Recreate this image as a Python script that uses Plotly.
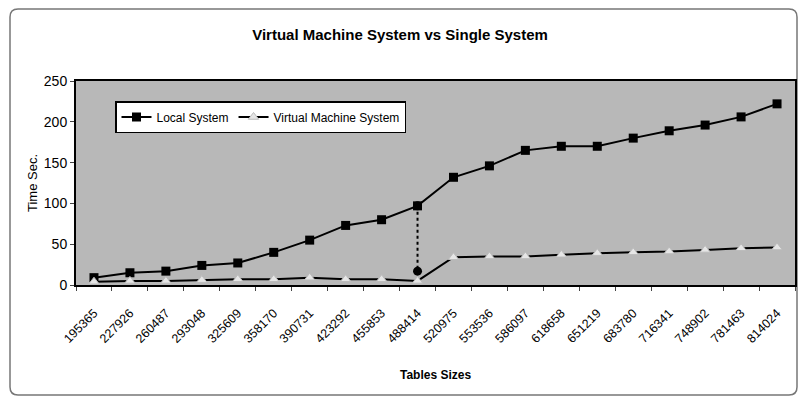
import plotly.graph_objects as go

table_sizes = ["195365", "227926", "260487", "293048", "325609", "358170", "390731",
               "423292", "455853", "488414", "520975", "553536", "586097", "618658",
               "651219", "683780", "716341", "748902", "781463", "814024"]
local_system = [9, 15, 17, 24, 27, 40, 55, 73, 80, 97, 132, 146, 165, 170, 170, 180, 189, 196, 206, 222]
vm_system = [4, 5, 5, 6, 7, 7, 9, 7, 7, 5, 34, 35, 35, 37, 39, 40, 41, 43, 45, 46]
drop_x = ["488414", "488414"]
drop_y = [97, 17]

font = "Liberation Sans, Arial, sans-serif"

fig = go.Figure()
fig.add_trace(go.Scatter(
    x=table_sizes, y=local_system, name="Local System", mode="lines+markers",
    line=dict(color="black", width=2),
    marker=dict(symbol="square", size=9, color="black")))
fig.add_trace(go.Scatter(
    x=table_sizes, y=vm_system, name="Virtual Machine System", mode="lines+markers",
    line=dict(color="black", width=2),
    marker=dict(symbol="triangle-up", size=9, color="#e6e6e6",
                line=dict(color="#bbbbbb", width=1))))
fig.add_trace(go.Scatter(
    x=drop_x, y=drop_y, mode="lines+markers", showlegend=False,
    line=dict(color="black", width=2, dash="dot"),
    marker=dict(symbol="circle", size=9, color="black")))

# outer rounded frame of the chart
x0, x1 = (10 - 76) / 719, (797 - 76) / 719
y0, y1 = (285 - 395) / 204, (285 - 9) / 204
rx, ry = 8 / 719, 8 / 204
path = (f"M {x0+rx},{y1} L {x1-rx},{y1} Q {x1},{y1} {x1},{y1-ry} "
        f"L {x1},{y0+ry} Q {x1},{y0} {x1-rx},{y0} L {x0+rx},{y0} "
        f"Q {x0},{y0} {x0},{y0+ry} L {x0},{y1-ry} Q {x0},{y1} {x0+rx},{y1} Z")
fig.add_shape(type="path", path=path, xref="paper", yref="paper",
              line=dict(color="#777777", width=1.5), layer="below")

fig.add_annotation(text="<b>Tables Sizes</b>", xref="paper", yref="paper",
                   x=0.5, y=(285 - 375) / 204, xanchor="center", yanchor="middle",
                   showarrow=False, font=dict(size=12, family=font))
fig.add_annotation(text="Time Sec.", xref="paper", yref="paper", textangle=-90,
                   x=(32 - 76) / 719, y=(285 - 183) / 204, xanchor="center", yanchor="middle",
                   showarrow=False, font=dict(size=13, family=font))

fig.update_layout(
    width=800, height=398,
    margin=dict(l=76, r=5, t=81, b=113),
    paper_bgcolor="white", plot_bgcolor="#b8b8b8",
    font=dict(family=font, color="black"),
    title=dict(text="<b>Virtual Machine System vs Single System</b>",
               x=0.5, xanchor="center", y=1 - 35 / 398, yanchor="middle",
               font=dict(size=15, family=font)),
    showlegend=True,
    legend=dict(orientation="h", x=(115 - 76) / 719, y=(285 - 101) / 204,
                xanchor="left", yanchor="top", bgcolor="white",
                bordercolor="black", borderwidth=1.5,
                font=dict(size=12, family=font), itemwidth=30,
                tracegroupgap=0),
    xaxis=dict(type="category", range=[-0.5, 19.5], automargin=False,
               tickangle=-45, tickfont=dict(size=12.5), ticklabelstandoff=14,
               ticks="outside", ticklen=4, tickson="boundaries",
               showline=True, linecolor="black", linewidth=2, mirror=True,
               showgrid=False),
    yaxis=dict(range=[0, 250], tickvals=[0, 50, 100, 150, 200, 250], automargin=False,
               tickfont=dict(size=14), ticks="outside", ticklen=4,
               showline=True, linecolor="black", linewidth=2, mirror=True,
               showgrid=False, zeroline=False),
)

fig.write_html("out.html")
